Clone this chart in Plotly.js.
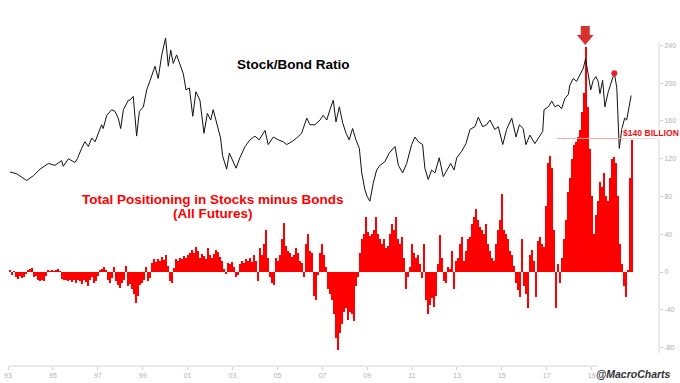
<!DOCTYPE html>
<html>
<head>
<meta charset="utf-8">
<script src="https://cdn.plot.ly/plotly-3.0.1.min.js"></script>
<style>
  html, body { margin: 0; padding: 0; background: #ffffff; }
  #chart { width: 680px; height: 383px; }
</style>
</head>
<body>
<div id="chart"></div>
<script>
// ---- Stock/Bond ratio (decimal year, value) ----
const ratioYears = [1993.09,1993.39,1993.83,1994.13,1994.43,1994.80,1995.09,1995.39,1995.46,1995.69,1995.98,1996.09,1996.28,1996.43,1996.58,1996.73,1996.88,1997.02,1997.17,1997.24,1997.40,1997.62,1997.77,1997.91,1998.02,1998.14,1998.36,1998.43,1998.58,1998.73,1998.85,1999.03,1999.18,1999.33,1999.55,1999.69,1999.85,2000.02,2000.14,2000.25,2000.36,2000.51,2000.66,2000.81,2000.93,2001.08,2001.23,2001.37,2001.55,2001.73,2001.88,2002.03,2002.14,2002.32,2002.47,2002.56,2002.74,2002.86,2003.04,2003.16,2003.33,2003.56,2003.78,2004.00,2004.19,2004.45,2004.59,2004.82,2005.04,2005.26,2005.41,2005.64,2005.86,2006.08,2006.31,2006.45,2006.67,2006.90,2007.04,2007.20,2007.34,2007.49,2007.61,2007.76,2007.91,2008.06,2008.20,2008.35,2008.50,2008.65,2008.76,2008.90,2009.00,2009.12,2009.27,2009.42,2009.57,2009.79,2009.98,2010.24,2010.39,2010.58,2010.76,2010.98,2011.13,2011.28,2011.47,2011.57,2011.72,2011.87,2012.02,2012.21,2012.39,2012.54,2012.72,2012.87,2012.99,2013.21,2013.40,2013.58,2013.80,2013.95,2014.14,2014.32,2014.47,2014.69,2014.84,2015.04,2015.21,2015.44,2015.63,2015.78,2015.95,2016.07,2016.25,2016.47,2016.70,2016.82,2016.88,2017.07,2017.22,2017.37,2017.51,2017.66,2017.81,2017.96,2018.03,2018.18,2018.33,2018.48,2018.63,2018.73,2018.85,2018.96,2019.07,2019.19,2019.29,2019.37,2019.49,2019.59,2019.74,2019.85,2020.01,2020.12,2020.19,2020.23,2020.34,2020.47,2020.56,2020.65,2020.76];
const ratioValues = [106,104,97,102,109,115,113,118,112,120,116,120,131,138,133,142,138,147,156,152,166,172,170,163,152,172,182,182,186,144,170,175,193,203,218,205,230,248,218,235,221,230,221,210,193,195,165,191,182,147,168,161,172,156,142,123,109,126,117,110,121,133,140,144,140,150,135,143,140,138,135,138,142,147,163,156,156,161,166,161,172,182,159,175,158,147,140,152,140,131,105,87,80,75,94,108,113,117,126,133,113,105,115,135,143,138,135,110,98,108,105,121,101,108,115,108,121,128,136,151,154,164,154,156,161,151,154,135,151,163,143,156,152,135,145,136,145,149,172,175,181,175,177,173,184,188,198,205,202,209,216,226,209,193,203,207,202,189,203,175,191,200,211,195,151,131,151,163,161,173,187];

// ---- Total positioning in stocks minus bonds, all futures ($bn) ----
const posYears = [
1993.09,1993.18,1993.27,1993.36,1993.45,1993.53,1993.62,1993.71,1993.80,1993.89,
1993.98,1994.07,1994.16,1994.25,1994.34,1994.43,1994.51,1994.60,1994.69,1994.78,
1994.87,1994.96,1995.05,1995.14,1995.23,1995.32,1995.41,1995.49,1995.58,1995.67,
1995.76,1995.85,1995.94,1996.03,1996.12,1996.21,1996.30,1996.39,1996.47,1996.56,
1996.65,1996.74,1996.83,1996.92,1997.01,1997.10,1997.19,1997.28,1997.37,1997.45,
1997.54,1997.63,1997.72,1997.81,1997.90,1997.99,1998.08,1998.17,1998.26,1998.35,
1998.43,1998.52,1998.61,1998.70,1998.79,1998.88,1998.97,1999.06,1999.15,1999.24,
1999.33,1999.41,1999.50,1999.59,1999.68,1999.77,1999.86,1999.95,2000.04,2000.13,
2000.22,2000.31,2000.39,2000.48,2000.57,2000.66,2000.75,2000.84,2000.93,2001.02,
2001.11,2001.20,2001.29,2001.37,2001.46,2001.55,2001.64,2001.73,2001.82,2001.91,
2002.00,2002.09,2002.18,2002.27,2002.35,2002.44,2002.53,2002.62,2002.71,2002.80,
2002.89,2002.98,2003.07,2003.16,2003.25,2003.33,2003.42,2003.51,2003.60,2003.69,
2003.78,2003.87,2003.96,2004.05,2004.14,2004.23,2004.31,2004.40,2004.49,2004.58,
2004.67,2004.76,2004.85,2004.94,2005.03,2005.12,2005.21,2005.29,2005.38,2005.47,
2005.56,2005.65,2005.74,2005.83,2005.92,2006.01,2006.10,2006.19,2006.27,2006.36,
2006.45,2006.54,2006.63,2006.72,2006.81,2006.90,2006.99,2007.08,2007.17,2007.25,
2007.34,2007.43,2007.52,2007.61,2007.70,2007.79,2007.88,2007.97,2008.06,2008.15,
2008.23,2008.32,2008.41,2008.50,2008.59,2008.68,2008.77,2008.86,2008.95,2009.04,
2009.13,2009.21,2009.30,2009.39,2009.48,2009.57,2009.66,2009.75,2009.84,2009.93,
2010.02,2010.11,2010.19,2010.28,2010.37,2010.46,2010.55,2010.64,2010.73,2010.82,
2010.91,2011.00,2011.09,2011.17,2011.26,2011.35,2011.44,2011.53,2011.62,2011.71,
2011.80,2011.89,2011.98,2012.06,2012.15,2012.24,2012.33,2012.42,2012.51,2012.60,
2012.69,2012.78,2012.87,2012.96,2013.04,2013.13,2013.22,2013.31,2013.40,2013.49,
2013.58,2013.67,2013.76,2013.85,2013.94,2014.03,2014.11,2014.20,2014.29,2014.38,
2014.47,2014.56,2014.65,2014.74,2014.83,2014.92,2015.00,2015.09,2015.18,2015.27,
2015.36,2015.45,2015.54,2015.63,2015.72,2015.81,2015.89,2015.98,2016.07,2016.16,
2016.25,2016.34,2016.43,2016.52,2016.61,2016.70,2016.78,2016.87,2016.96,2017.05,
2017.14,2017.23,2017.32,2017.41,2017.50,2017.59,2017.67,2017.76,2017.85,2017.94,
2018.03,2018.12,2018.21,2018.30,2018.39,2018.47,2018.56,2018.65,2018.74,2018.83,
2018.92,2019.01,2019.10,2019.19,2019.28,2019.36,2019.45,2019.54,2019.63,2019.72,
2019.82,2019.90,2019.99,2020.08,2020.17,2020.26,2020.35,2020.43,2020.52,2020.61,
2020.70,2020.79];
const posValues = [
2,-3,1,-5,-7,-4,-6,-5,-2,2,
3,4,-5,-4,-9,-10,-8,-10,-4,2,
1,2,1,2,3,1,-7,-9,-8,-10,
-8,-11,-9,-12,-9,-10,-13,-9,-11,-15,
-8,-5,-12,-10,-4,2,3,5,2,-8,
-12,-6,5,-10,-14,-17,-12,-8,6,-15,
-13,-18,-23,-33,-25,-14,-12,-8,5,-10,
-6,10,14,11,14,12,16,13,18,6,
-10,-12,4,14,12,15,14,17,15,18,
20,23,20,26,22,15,19,17,14,25,
18,15,19,23,21,16,12,3,-2,10,
8,11,5,-5,-3,8,12,10,14,12,
15,11,18,12,-10,25,18,30,44,15,
-5,-12,-14,15,12,18,35,52,28,22,
20,16,18,25,20,12,10,-5,30,40,
22,20,-25,-30,-3,20,30,18,5,-18,
-23,-30,-45,-70,-83,-65,-55,-42,-38,-51,
-42,-45,-52,-15,-5,20,35,40,58,42,
38,40,45,58,40,35,30,35,25,28,
40,51,45,58,35,30,37,15,-18,-5,
5,30,20,15,18,8,-6,30,-30,-44,
-35,-28,-37,-25,8,39,15,-10,-12,5,
3,22,-18,12,15,30,37,12,22,35,
37,51,58,67,55,48,44,40,51,30,
22,15,12,30,44,55,83,45,40,35,
22,18,6,-12,-19,-26,35,-15,-23,-38,
18,23,12,-26,33,37,30,26,70,115,
123,110,44,-38,8,-12,15,35,55,85,
100,120,135,138,143,150,170,190,238,175,
130,80,40,60,75,95,90,105,80,75,
100,120,122,115,80,30,8,-15,-26,2,
100,140];

// ---- axis ticks ----
const xTickYears = [1993,1995,1997,1999,2001,2003,2005,2007,2009,2011,2013,2015,2017,2019];
const xTickLabels = ['93','95','97','99','01','03','05','07','09','11','13','15','17','19'];
const yTickVals = [-80,-40,0,40,80,120,160,200,240];
const yTickLabels = ['-80','-40','0','40','80','120','160','200','240'];

// highlighted points
const peakYear = 2018.715;
const dotYear = [2020.01];
const dotValue = [210.5];
const levelValue = 141.5;

const traces = [
  {
    x: posYears, y: posValues, type: 'bar', width: 0.095,
    marker: {color: '#ff0000', line: {width: 0}}, hoverinfo: 'skip'
  },
  {
    x: ratioYears, y: ratioValues, type: 'scatter', mode: 'lines',
    line: {color: '#111111', width: 1}, hoverinfo: 'skip'
  },
  {
    x: dotYear, y: dotValue, type: 'scatter', mode: 'markers',
    marker: {color: '#e8202a', size: 6}, hoverinfo: 'skip'
  }
];

const font = 'Liberation Sans, Arial, sans-serif';
const layout = {
  width: 680, height: 383,
  margin: {l: 8, r: 21, t: 25, b: 17, pad: 0},
  paper_bgcolor: '#ffffff', plot_bgcolor: '#ffffff',
  showlegend: false,
  bargap: 0,
  font: {family: font},
  xaxis: {
    range: [1993, 2022], tickvals: xTickYears, ticktext: xTickLabels,
    ticks: 'outside', ticklen: 3, tickcolor: '#cfcfcf', tickwidth: 1,
    tickfont: {size: 7, color: '#b0b0b0', family: font},
    showgrid: false, zeroline: false, showline: false, fixedrange: true
  },
  yaxis: {
    side: 'right', range: [-99.6, 261.7], tickvals: yTickVals, ticktext: yTickLabels,
    ticks: 'outside', ticklen: 3, tickcolor: '#cfcfcf', tickwidth: 1,
    tickfont: {size: 7, color: '#b0b0b0', family: font},
    showgrid: false, zeroline: false, showline: false, fixedrange: true
  },
  shapes: [
    {type: 'line', xref: 'paper', yref: 'paper', x0: 0, x1: 0.905, y0: 0, y1: 0,
     line: {color: '#d4d4d4', width: 1}},
    {type: 'line', xref: 'paper', yref: 'y', x0: 1, x1: 1, y0: -86, y1: 243,
     line: {color: '#d4d4d4', width: 1}},
    {type: 'line', xref: 'x', yref: 'y', x0: 2017.45, x1: 2021.95, y0: levelValue, y1: levelValue,
     line: {color: '#f6a5a5', width: 1}},
    {type: 'path', xref: 'x', yref: 'y', layer: 'above',
     path: 'M ' + (peakYear - 0.2) + ',260.7 L ' + (peakYear + 0.2) + ',260.7 L ' + (peakYear + 0.2) + ',251.1 L ' +
           (peakYear + 0.37) + ',251.1 L ' + peakYear + ',240.5 L ' + (peakYear - 0.37) + ',251.1 L ' +
           (peakYear - 0.2) + ',251.1 Z',
     fillcolor: '#d7322e', line: {width: 0}}
  ],
  annotations: [
    {text: '<b>Stock/Bond Ratio</b>', xref: 'x', yref: 'y', x: 2005.7, y: 219.5,
     showarrow: false, xanchor: 'center', yanchor: 'middle',
     font: {size: 13.5, color: '#000000', family: font}},
    {text: '<b>Total Positioning in Stocks minus Bonds</b>', xref: 'x', yref: 'y', x: 2002.14, y: 76.8,
     showarrow: false, xanchor: 'center', yanchor: 'middle',
     font: {size: 13.5, color: '#ff0000', family: font}},
    {text: '<b>(All Futures)</b>', xref: 'x', yref: 'y', x: 2002.14, y: 62.5,
     showarrow: false, xanchor: 'center', yanchor: 'middle',
     font: {size: 13.5, color: '#ff0000', family: font}},
    {text: '<b>$140 BILLION</b>', xref: 'x', yref: 'y', x: 2021.65, y: 147.5,
     showarrow: false, xanchor: 'center', yanchor: 'middle', bgcolor: 'rgba(255,255,255,0.9)',
     borderpad: 0, font: {size: 8.6, color: '#ee1111', family: font}},
    {text: '<b><i>@MacroCharts</i></b>', xref: 'paper', yref: 'paper', x: 1.021, y: -0.024,
     showarrow: false, xanchor: 'right', yanchor: 'middle',
     font: {size: 10.5, color: '#333333', family: 'Liberation Sans Narrow, Liberation Sans, Arial, sans-serif'}}
  ]
};

Plotly.newPlot('chart', traces, layout, {displayModeBar: false, staticPlot: true});
</script>
</body>
</html>
